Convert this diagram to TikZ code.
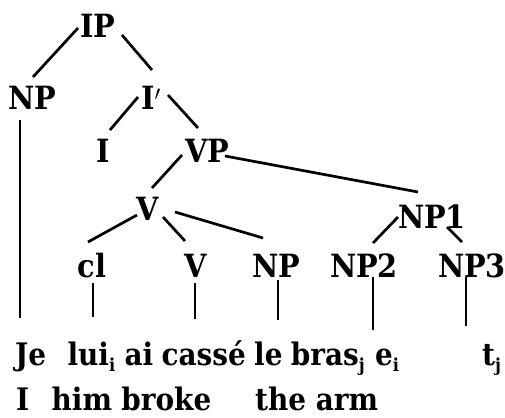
\documentclass[tikz,border=0pt]{standalone}
\usepackage{fontspec}
\setmainfont{DejaVu Serif Condensed}[BoldFont={* Bold}]
\usetikzlibrary{calc}

% lowered index letter used after a word
\newcommand{\idxsub}[1]{\raisebox{-6pt}{\fontsize{18}{18}\selectfont\bfseries #1}}

\tikzset{
  cat/.style={inner sep=0pt, anchor=base, font=\fontsize{32}{32}\selectfont\bfseries},
  word/.style={inner sep=0pt, anchor=base west, font=\fontsize{31}{31}\selectfont\bfseries},
  branch/.style={line width=2.7pt, line cap=butt},
  leaf/.style={line width=2.7pt},
}

\begin{document}
\begin{tikzpicture}[x=1pt, y=-1pt]
  \useasboundingbox (0,0) rectangle (505,417);

  % syntactic categories (placed by baseline)
  \node[cat] (ip)  at (98,38)   {IP};
  \node[cat] (npL) at (32,110)  {NP};
  \node[cat] (ibar) at (151,110) {I$'$};
  \node[cat] (infl) at (103,162) {I};
  \node[cat] (vp)  at (207,162) {VP};
  \node[cat] (vbar) at (148,220) {V};
  \node[cat] (np1) at (432,228) {NP1};
  \node[cat] (cl)  at (92,277)  {cl};
  \node[cat] (vv)  at (196,277) {V};
  \node[cat] (npM) at (276,277) {NP};
  \node[cat] (np2) at (364,277) {NP2};
  \node[cat] (np3) at (472,277) {NP3};

  % French sentence, word by word
  \node[word] (je)    at (15,365)  {Je};
  \node[word] (lui)   at ($(je.base east)+(21,0)$)    {lui\idxsub{i}};
  \node[word] (ai)    at ($(lui.base east)+(9,0)$)    {ai};
  \node[word] (casse) at ($(ai.base east)+(8,0)$)     {cassé};
  \node[word] (le)    at ($(casse.base east)+(8,0)$)  {le};
  \node[word] (bras)  at ($(le.base east)+(8,0)$)     {bras\idxsub{j}};
  \node[word] (ei)    at ($(bras.base east)+(10,0)$)  {e\idxsub{i}};
  \node[word] (tj)    at (482,365) {t\idxsub{j}};

  % English gloss
  \node[word] (gI)     at (16,410)  {I};
  \node[word] (ghim)   at ($(gI.base east)+(22,0)$)   {him};
  \node[word] (gbroke) at ($(ghim.base east)+(9,0)$)  {broke};
  \node[word] (garm)   at (255,410) {the arm};

  % branches
  \draw[branch] ([shift={(-20,-10)}]ip.base) -- ([shift={(1,-33)}]npL.base);
  \draw[branch] ([shift={(24,-3)}]ip.base) -- ([shift={(1,-40)}]ibar.base);
  \draw[branch] ([shift={(-13,-13)}]ibar.base) -- ([shift={(7,-32)}]infl.base);
  \draw[branch] ([shift={(17,-15)}]ibar.base) -- ([shift={(-9,-34)}]vp.base);
  \draw[branch] ([shift={(-25,-7)}]vp.base) -- ([shift={(4,-32)}]vbar.base);
  \draw[branch] ([shift={(18,-6)}]vp.base) -- ([shift={(-14,-36)}]np1.base);
  \draw[branch] ([shift={(-11,-5)}]vbar.base) -- ([shift={(-4,-35)}]cl.base);
  \draw[branch] ([shift={(15,-3)}]vbar.base) -- ([shift={(-11,-36)}]vv.base);
  \draw[branch] ([shift={(27,-8)}]vbar.base) -- ([shift={(-13,-39)}]npM.base);
  \draw[branch] ([shift={(-34,-11)}]np1.base) -- ([shift={(9,-34)}]np2.base);
  \draw[branch] ([shift={(15,-1)}]np1.base) -- ([shift={(-10,-35)}]np3.base);

  % leaves down to the words
  \draw[leaf] ([shift={(-12,10)}]npL.base) -- ([shift={(-12,-24)}]npL.base |- je.north);
  \draw[leaf] ([shift={(1,6)}]cl.base) -- ([shift={(1,-24)}]cl.base |- lui.north);
  \draw[leaf] ([shift={(-1,6)}]vv.base) -- ([shift={(-1,-21)}]vv.base |- casse.north);
  \draw[leaf] ([shift={(2,3)}]npM.base) -- ([shift={(2,-21)}]npM.base |- bras.north);
  \draw[leaf] ([shift={(9,0)}]np2.base) -- ([shift={(9,-18)}]np2.base |- ei.north);
  \draw[leaf] ([shift={(-6,0)}]np3.base) -- ([shift={(-6,-18)}]np3.base |- tj.north);
\end{tikzpicture}
\end{document}
